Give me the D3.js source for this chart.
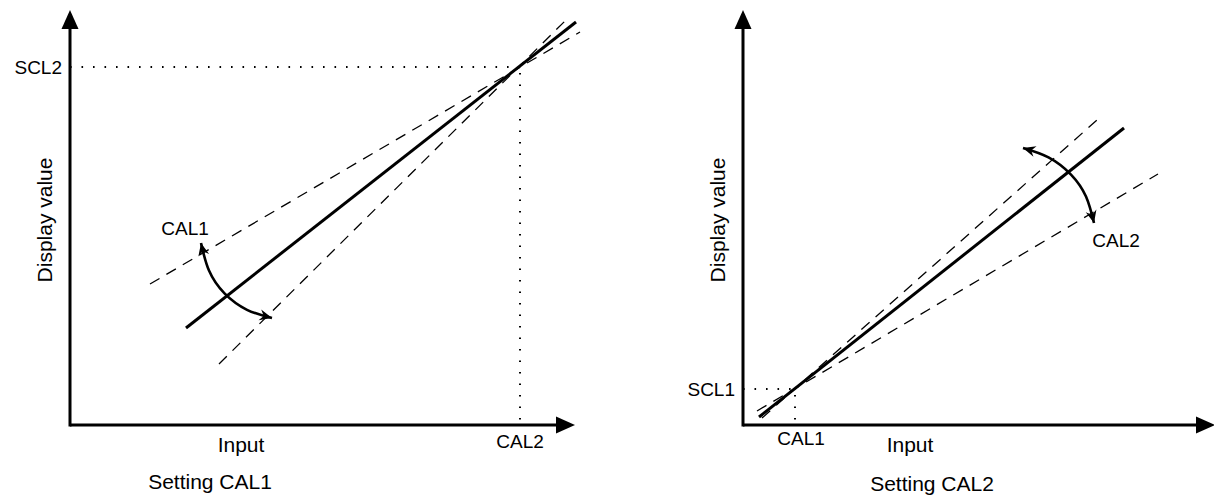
<!DOCTYPE html>
<html>
<head>
<meta charset="utf-8">
<script src="https://cdn.jsdelivr.net/npm/d3@7"></script>
<style>
  html, body { margin: 0; padding: 0; background: #fff; }
  svg { display: block; font-family: "Liberation Sans", Arial, Helvetica, sans-serif; }
</style>
</head>
<body>
<svg id="chart" width="1214" height="499"></svg>
<script>
// ---- data (in chart units, 0..100 on each axis) ----
const panelTitles   = ["Setting CAL1", "Setting CAL2"];
const xAxisLabel    = "Input";
const yAxisLabel    = "Display value";
const sclLabels     = ["SCL2", "SCL1"];
const calLabels     = ["CAL2", "CAL1"];       // label on the x-axis
const arcLabels     = ["CAL1", "CAL2"];       // label next to the adjusting arc
const sclValues     = [89.5, 9];               // y value of the SCL point
const calValues     = [90, 10.4];              // x value of the CAL point
const axisTipX      = [101, 94.4];
const axisTipY      = [103.75, 103.75];
const solidLines    = [
  [[23.2, 24.25], [101.2, 100.75]],
  [[3.2, 2], [76.2, 74.25]]
];
const dashedLines   = [
  [[[16, 35.25], [102, 98.25]], [[29.8, 15.25], [99.2, 101.25]]],
  [[[2.8, 3.5], [83, 62.75]], [[3.8, 1.75], [70.8, 76.25]]]
];
const arcPoints     = [
  [[26.2, 45.5], [27.8, 38.6], [30.9, 32.9], [35.4, 28.8], [40.4, 26.75]],
  [[56, 69.25], [61.1, 66.9], [65.6, 62.6], [68.6, 57.1], [70.2, 50.5]]
];
const arcLabelPos   = [[23, 47.5], [74.6, 44.5]];

// ---- layout ----
const originsX = [70, 743];
const originY = 425;
const svg = d3.select("#chart");

const defs = svg.append("defs");
defs.append("marker")
  .attr("id", "arcHead")
  .attr("markerUnits", "userSpaceOnUse")
  .attr("viewBox", "-14 -7 15 14")
  .attr("refX", 0).attr("refY", 0)
  .attr("markerWidth", 15).attr("markerHeight", 14)
  .attr("orient", "auto-start-reverse")
  .append("path")
  .attr("d", "M0,0 L-12.5,-5.5 L-8.5,0 L-12.5,5.5 Z")
  .attr("fill", "#000");

panelTitles.forEach((title, i) => {
  const x = d3.scaleLinear().domain([0, 100]).range([originsX[i], originsX[i] + 500]);
  const y = d3.scaleLinear().domain([0, 100]).range([originY, originY - 400]);
  const g = svg.append("g");
  const line = d3.line().x(d => x(d[0])).y(d => y(d[1]));

  // dotted guides
  g.append("path")
    .attr("d", line([[0, sclValues[i]], [calValues[i], sclValues[i]]]))
    .attr("stroke", "#000").attr("stroke-width", 2)
    .attr("stroke-dasharray", "1.6,9.9").attr("fill", "none");
  g.append("path")
    .attr("d", line([[calValues[i], sclValues[i]], [calValues[i], 0]]))
    .attr("stroke", "#000").attr("stroke-width", 2)
    .attr("stroke-dasharray", "1.6,9.9").attr("stroke-dashoffset", -6).attr("fill", "none");

  // dashed lines
  dashedLines[i].forEach(seg => {
    g.append("path").attr("d", line(seg))
      .attr("stroke", "#000").attr("stroke-width", 1.3)
      .attr("stroke-dasharray", "11,8").attr("fill", "none");
  });

  // solid line
  g.append("path").attr("d", line(solidLines[i]))
    .attr("stroke", "#000").attr("stroke-width", 3).attr("fill", "none");

  // arc with arrows
  g.append("path")
    .attr("d", d3.line().x(d => x(d[0])).y(d => y(d[1])).curve(d3.curveNatural)(arcPoints[i]))
    .attr("stroke", "#000").attr("stroke-width", 2.6).attr("fill", "none")
    .attr("marker-start", "url(#arcHead)").attr("marker-end", "url(#arcHead)");

  // axes
  const tipX = x(axisTipX[i]), tipY = y(axisTipY[i]);
  const headLen = 19, headHalf = 8.5;
  g.append("path")
    .attr("d", `M${x(0)},${y(0)} L${tipX - headLen + 2},${y(0)}`)
    .attr("stroke", "#000").attr("stroke-width", 3).attr("fill", "none");
  g.append("path")
    .attr("d", `M${x(0)},${y(0) + 1.5} L${x(0)},${tipY + headLen - 2}`)
    .attr("stroke", "#000").attr("stroke-width", 3).attr("fill", "none");
  g.append("path")
    .attr("d", `M${tipX},${y(0)} L${tipX - headLen},${y(0) - headHalf} L${tipX - headLen},${y(0) + headHalf} Z`)
    .attr("fill", "#000");
  g.append("path")
    .attr("d", `M${x(0)},${tipY} L${x(0) - headHalf},${tipY + headLen} L${x(0) + headHalf},${tipY + headLen} Z`)
    .attr("fill", "#000");

  // texts
  const fsSmall = 19, fsBig = 21;
  g.append("text").text(sclLabels[i])
    .attr("x", x(0) - 8).attr("y", y(sclValues[i]) + 7)
    .attr("text-anchor", "end").attr("font-size", fsSmall);
  g.append("text").text(calLabels[i])
    .attr("x", x(calValues[i]) + (i === 1 ? 6 : 0)).attr("y", i === 0 ? 448 : 445)
    .attr("text-anchor", "middle").attr("font-size", fsSmall);
  g.append("text").text(arcLabels[i])
    .attr("x", x(arcLabelPos[i][0])).attr("y", y(arcLabelPos[i][1]))
    .attr("text-anchor", "middle").attr("font-size", fsSmall);
  g.append("text").text(xAxisLabel)
    .attr("x", i === 0 ? 241 : 910).attr("y", 452)
    .attr("text-anchor", "middle").attr("font-size", fsBig);
  g.append("text").text(title)
    .attr("x", i === 0 ? 210 : 932).attr("y", i === 0 ? 489 : 491)
    .attr("text-anchor", "middle").attr("font-size", fsBig);
  g.append("text").text(yAxisLabel)
    .attr("transform", `translate(${x(0) - 18},${220}) rotate(-90)`)
    .attr("text-anchor", "middle").attr("font-size", fsBig);
});
</script>
</body>
</html>
